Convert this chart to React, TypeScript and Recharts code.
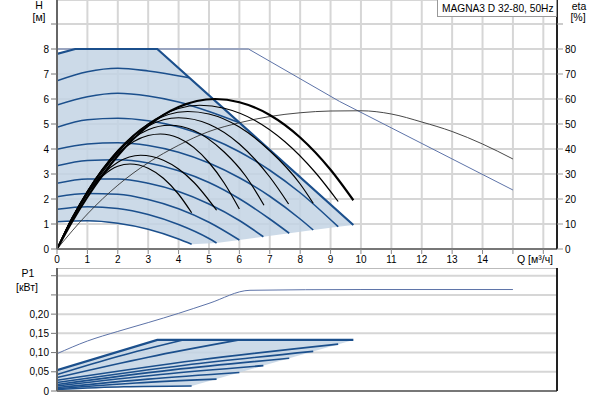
import React from 'react';
import { ComposedChart, Line, Area, XAxis, YAxis, CartesianGrid, ReferenceLine } from 'recharts';

type Pt = [number, number];

// ---- axes ----
const Q_TICKS = [0, 1, 2, 3, 4, 5, 6, 7, 8, 9, 10, 11, 12, 13, 14, 15, 16];
const Q_LABELS = ['0', '1', '2', '3', '4', '5', '6', '7', '8', '9', '10', '11', '12', '13', '14', '', ''];
const H_TICKS = [0, 1, 2, 3, 4, 5, 6, 7, 8, 9];
const H_LABELS = ['0', '1', '2', '3', '4', '5', '6', '7', '8', ''];
const ETA_TICKS = [0, 10, 20, 30, 40, 50, 60, 70, 80, 90];
const ETA_LABELS = ['0', '10', '20', '30', '40', '50', '60', '70', '80', ''];
const P_TICKS = [0, 0.05, 0.1, 0.15, 0.2, 0.25, 0.3];
const P_LABELS = ['0', '0,05', '0,10', '0,15', '0,20', '', ''];

// ---- H-Q: speed curves [Q, H] ----
const hEdge: Pt[] = [[0, 7.8], [0.6, 8], [3.3, 8], [9.75, 0.96]];
const hA: Pt[] = [[0, 6.73], [1, 7.09], [2, 7.23], [3, 7.12], [4.35, 6.85]];
const hB: Pt[] = [[0, 5.76], [1, 6.09], [2, 6.23], [3, 6.12], [4, 5.88], [5, 5.5], [6, 5.05]];
const hC: Pt[] = [[0, 4.87], [1, 5.17], [2, 5.23], [3, 5.13], [4, 4.88], [5, 4.46], [6, 3.89], [7, 3.15], [8, 2.25], [9.25, 0.89]];
const hD: Pt[] = [[0, 3.99], [1, 4.2], [2, 4.25], [3, 4.14], [4, 3.87], [5, 3.44], [6, 2.85], [7, 2.11], [8, 1.2], [8.43, 0.76]];
const hE: Pt[] = [[0, 3.33], [1, 3.54], [2, 3.57], [3, 3.44], [4, 3.13], [5, 2.66], [6, 2.01], [7, 1.2], [7.64, 0.63]];
const hF: Pt[] = [[0, 2.63], [1, 2.8], [2, 2.8], [3, 2.63], [4, 2.3], [5, 1.8], [6, 1.14], [6.79, 0.49]];
const hG: Pt[] = [[0, 2.09], [1, 2.22], [2, 2.19], [3, 1.98], [4, 1.61], [5, 1.07], [6, 0.36]];
const hH: Pt[] = [[0, 1.59], [1, 1.69], [2, 1.62], [3, 1.38], [4, 0.98], [5, 0.42], [5.25, 0.24]];
const hI: Pt[] = [[0, 1.09], [1, 1.13], [2, 1.03], [3, 0.79], [4, 0.4], [4.43, 0.19]];
const hMaxThin: Pt[] = [[0, 8], [6.3, 8], [9.3, 5.9], [15, 2.36]];

// operating area [Q, low, high]
const hArea: [number, number, number][] = [
  [0, 1.09, 7.8], [0.6, 1.13, 8], [1, 1.13, 8], [2, 1.03, 8], [2.5, 0.93, 8], [3, 0.79, 8], [3.3, 0.69, 8],
  [3.5, 0.61, 7.78], [4, 0.4, 7.24], [4.43, 0.19, 6.77], [5.25, 0.24, 5.87], [6, 0.36, 5.05], [6.79, 0.49, 4.19],
  [7.64, 0.63, 3.26], [8.43, 0.76, 2.4], [9.25, 0.89, 1.51], [9.75, 0.96, 0.96],
];

// ---- efficiency curves [Q, eta %] ----
const eI: Pt[] = [[0, 0], [0.5, 12.7], [1, 22.4], [1.5, 29.2], [2, 33.1], [2.4, 34], [3, 32.3], [3.5, 28.3], [4, 21.9], [4.43, 14.5]];
const eH: Pt[] = [[0, 0], [0.5, 12.4], [1, 22.3], [1.5, 29.8], [2, 34.7], [2.75, 37.5], [3.5, 35.5], [4, 32], [4.5, 26.7], [5.25, 15.5]];
const eG: Pt[] = [[0, 0], [0.5, 12.5], [1, 23.1], [2, 38.2], [3, 45.4], [3.4, 46], [4, 44.4], [5, 34.6], [5.5, 26.4], [6, 16]];
const eF: Pt[] = [[0, 0], [0.5, 12.4], [1, 23.1], [2, 39], [3, 47.7], [3.7, 49.5], [4.5, 47.4], [5.5, 38.8], [6.2, 29.3], [6.81, 17.5]];
const eE: Pt[] = [[0, 0], [0.5, 12.3], [1, 23], [2, 39.4], [3, 49.2], [4, 52.5], [5, 49.9], [6, 42], [7, 28.8], [7.62, 18]];
const eD: Pt[] = [[0, 0], [0.5, 12.1], [1, 22.6], [2, 39.3], [3, 50], [4.3, 55], [5, 54], [6, 48.8], [7, 39.3], [8, 26], [8.43, 18.3]];
const eC: Pt[] = [[0, 0], [0.5, 11.6], [1, 21.9], [2, 38.5], [3, 50], [4, 56.2], [4.7, 57.5], [5.5, 56.3], [6.5, 51.5], [7.5, 42.9], [8.5, 30.6], [9.25, 19]];
const eMax: Pt[] = [[0, 0], [0.5, 11], [1, 20.8], [2, 37.3], [3, 49.3], [4, 56.8], [5.2, 60], [6, 58.7], [7, 53.6], [8, 44.6], [9, 31.7], [9.75, 19.5]];
const eThin: Pt[] = [[0, 0], [1, 14], [2, 25.5], [3, 34.5], [4, 41.5], [5, 47], [6, 50.5], [7, 53], [8, 54.5], [9, 55.2], [10, 55.3], [11, 54], [12, 50.8], [13, 47], [14, 42], [15, 36]];

// ---- power curves [Q, P1 kW] ----
const pEdge: Pt[] = [[0, 0.054], [3.3, 0.133], [9.75, 0.133]];
const pA: Pt[] = [[0, 0.043], [2, 0.09], [4.15, 0.133]];
const pB: Pt[] = [[0, 0.035], [3, 0.088], [6, 0.133]];
const pC: Pt[] = [[0, 0.028], [4.6, 0.08], [9.25, 0.122]];
const pD: Pt[] = [[0, 0.022], [4.2, 0.067], [8.43, 0.103]];
const pE: Pt[] = [[0, 0.017], [3.8, 0.055], [7.64, 0.085]];
const pF: Pt[] = [[0, 0.013], [3.4, 0.043], [6.79, 0.066]];
const pG: Pt[] = [[0, 0.009], [3, 0.031], [6, 0.048]];
const pH: Pt[] = [[0, 0.006], [2.6, 0.021], [5.25, 0.031]];
const pI: Pt[] = [[0, 0.004], [2.2, 0.011], [4.43, 0.013]];
const pMaxThin: Pt[] = [[0, 0.097], [1, 0.13], [2, 0.155], [3, 0.178], [4, 0.202], [5, 0.228], [6.35, 0.262], [10, 0.264], [15, 0.264]];
const pArea: [number, number, number][] = [
  [0, 0.004, 0.054], [1, 0.0072, 0.078], [2.2, 0.011, 0.1067], [3.3, 0.012, 0.133], [4.43, 0.013, 0.133], [9.75, 0.133, 0.133],
];

const pts = (a: Pt[]) => a.map(([q, v]) => ({ q, v }));
const rng = (a: [number, number, number][]) => a.map(([q, lo, hi]) => ({ q, r: [lo, hi] }));

const FONT = 'Arial, "Liberation Sans", sans-serif';
const BLUE = '#1b4f8c';
const THINBLUE = '#5d73a8';
const FILL = '#c3d3e4';
const GRID = '#d6d6d6';
const tickStyle = { fontSize: 10, fill: '#000', fontFamily: FONT };

const lbl = (labels: string[], ticks: number[]) => (v: number) => {
  const i = ticks.findIndex((t) => Math.abs(t - v) < 1e-9);
  return i >= 0 ? labels[i] : '';
};

const speedH = [hA, hB, hC, hD, hE, hF, hG, hH, hI];
const etaCurves = [eI, eH, eG, eF, eE, eD, eC];
const powerCurves = [pA, pB, pC, pD, pE, pF, pG, pH, pI];

const txt = (s: string, left: number, top: number, width: number, align: 'left' | 'center' | 'right' = 'center') => (
  <div
    style={{
      position: 'absolute', left, top, width, textAlign: align, fontFamily: FONT, fontSize: 10.5,
      lineHeight: '13px', color: '#000', whiteSpace: 'nowrap',
    }}
  >
    {s}
  </div>
);

export default function App() {
  const line = (data: Pt[], key: string, stroke: string, w: number, yId: string | number = 0, type: any = 'monotone') => (
    <Line
      key={key}
      data={pts(data)}
      dataKey="v"
      yAxisId={yId}
      type={type}
      stroke={stroke}
      strokeWidth={w}
      dot={false}
      activeDot={false}
      isAnimationActive={false}
    />
  );

  return (
    <div style={{ position: 'absolute', left: 0, top: 0, width: 600, height: 400, background: '#fff', overflow: 'hidden' }}>
      <div style={{ position: 'absolute', left: 0, top: 0 }}>
        <ComposedChart width={600} height={268} margin={{ top: 0, right: 0, bottom: 0, left: 0 }}>
          <CartesianGrid stroke={GRID} strokeWidth={2} />
          <XAxis
            dataKey="q"
            type="number"
            domain={[0, 16.45]}
            allowDataOverflow
            ticks={Q_TICKS}
            interval={0}
            tickFormatter={lbl(Q_LABELS, Q_TICKS)}
            height={19}
            tickSize={5}
            tickLine={{ stroke: '#888' }}
            axisLine={{ stroke: '#777', strokeWidth: 2 }}
            tick={tickStyle}
          />
          <YAxis
            yAxisId={0}
            type="number"
            domain={[0, 9.96]}
            allowDataOverflow
            ticks={H_TICKS}
            interval={0}
            tickFormatter={lbl(H_LABELS, H_TICKS)}
            width={57}
            tickSize={6}
            tickLine={{ stroke: '#777' }}
            axisLine={{ stroke: '#666', strokeWidth: 2 }}
            tick={tickStyle}
          />
          <YAxis
            yAxisId="eta"
            orientation="right"
            type="number"
            domain={[0, 99.6]}
            allowDataOverflow
            ticks={ETA_TICKS}
            interval={0}
            tickFormatter={lbl(ETA_LABELS, ETA_TICKS)}
            width={43}
            tickSize={6}
            tickLine={{ stroke: '#999' }}
            axisLine={{ stroke: '#222', strokeWidth: 2 }}
            tick={tickStyle}
          />
          <Area
            data={rng(hArea)}
            dataKey="r"
            type="linear"
            stroke="none"
            fill={FILL}
            fillOpacity={0.85}
            isAnimationActive={false}
            dot={false}
            activeDot={false}
          />
          {line(hMaxThin, 'hmax', THINBLUE, 1, 0, 'linear')}
          {speedH.map((c, i) => line(c, 'h' + i, BLUE, 1.6))}
          {line(hEdge, 'hedge', BLUE, 2.2, 0, 'linear')}
          {line(eThin, 'ethin', '#333', 0.9, 'eta')}
          {etaCurves.map((c, i) => line(c, 'e' + i, '#000', 1.2, 'eta'))}
          {line(eMax, 'emax', '#000', 2.2, 'eta')}
        </ComposedChart>
      </div>

      <div style={{ position: 'absolute', left: 0, top: 268 }}>
        <ComposedChart width={600} height={132} margin={{ top: 0, right: 0, bottom: 0, left: 0 }}>
          <CartesianGrid stroke={GRID} strokeWidth={2} />
          <XAxis
            dataKey="q"
            type="number"
            domain={[0, 16.45]}
            allowDataOverflow
            ticks={Q_TICKS}
            interval={0}
            height={9}
            tick={false}
            tickLine={false}
            axisLine={{ stroke: '#777', strokeWidth: 2 }}
          />
          <YAxis
            yAxisId={0}
            type="number"
            domain={[0, 0.32]}
            allowDataOverflow
            ticks={P_TICKS}
            interval={0}
            tickFormatter={lbl(P_LABELS, P_TICKS)}
            width={57}
            tickSize={6}
            tickLine={{ stroke: '#777' }}
            axisLine={{ stroke: '#666', strokeWidth: 2 }}
            tick={tickStyle}
          />
          <YAxis
            yAxisId="r"
            orientation="right"
            type="number"
            domain={[0, 0.32]}
            width={43}
            tick={false}
            tickLine={false}
            axisLine={{ stroke: '#222', strokeWidth: 2 }}
          />
          <ReferenceLine y={0.32} stroke="#bbb" strokeWidth={2} />
          <Area
            data={rng(pArea)}
            dataKey="r"
            type="linear"
            stroke="none"
            fill={FILL}
            fillOpacity={0.85}
            isAnimationActive={false}
            dot={false}
            activeDot={false}
          />
          {line(pMaxThin, 'pmax', THINBLUE, 1)}
          {powerCurves.map((c, i) => line(c, 'p' + i, BLUE, 1.6))}
          {line(pEdge, 'pedge', BLUE, 2.2, 0, 'linear')}
        </ComposedChart>
      </div>

      {txt('H', 29, -1, 20)}
      {txt('[м]', 27, 11, 24)}
      {txt('eta', 567, 0, 24)}
      {txt('[%]', 566, 11, 24)}
      {txt('P1', 17, 267, 22)}
      {txt('[кВт]', 12, 281, 30)}
      {txt('Q [м³/ч]', 517, 253, 40, 'left')}
      <div
        style={{
          position: 'absolute', left: 437, top: -1, width: 120, height: 18, boxSizing: 'border-box',
          border: '1px solid #999', background: '#fff', fontFamily: FONT, fontSize: 10.2, lineHeight: '17px',
          paddingLeft: 4, color: '#000', whiteSpace: 'nowrap',
        }}
      >
        MAGNA3 D 32-80, 50Hz
      </div>
    </div>
  );
}
